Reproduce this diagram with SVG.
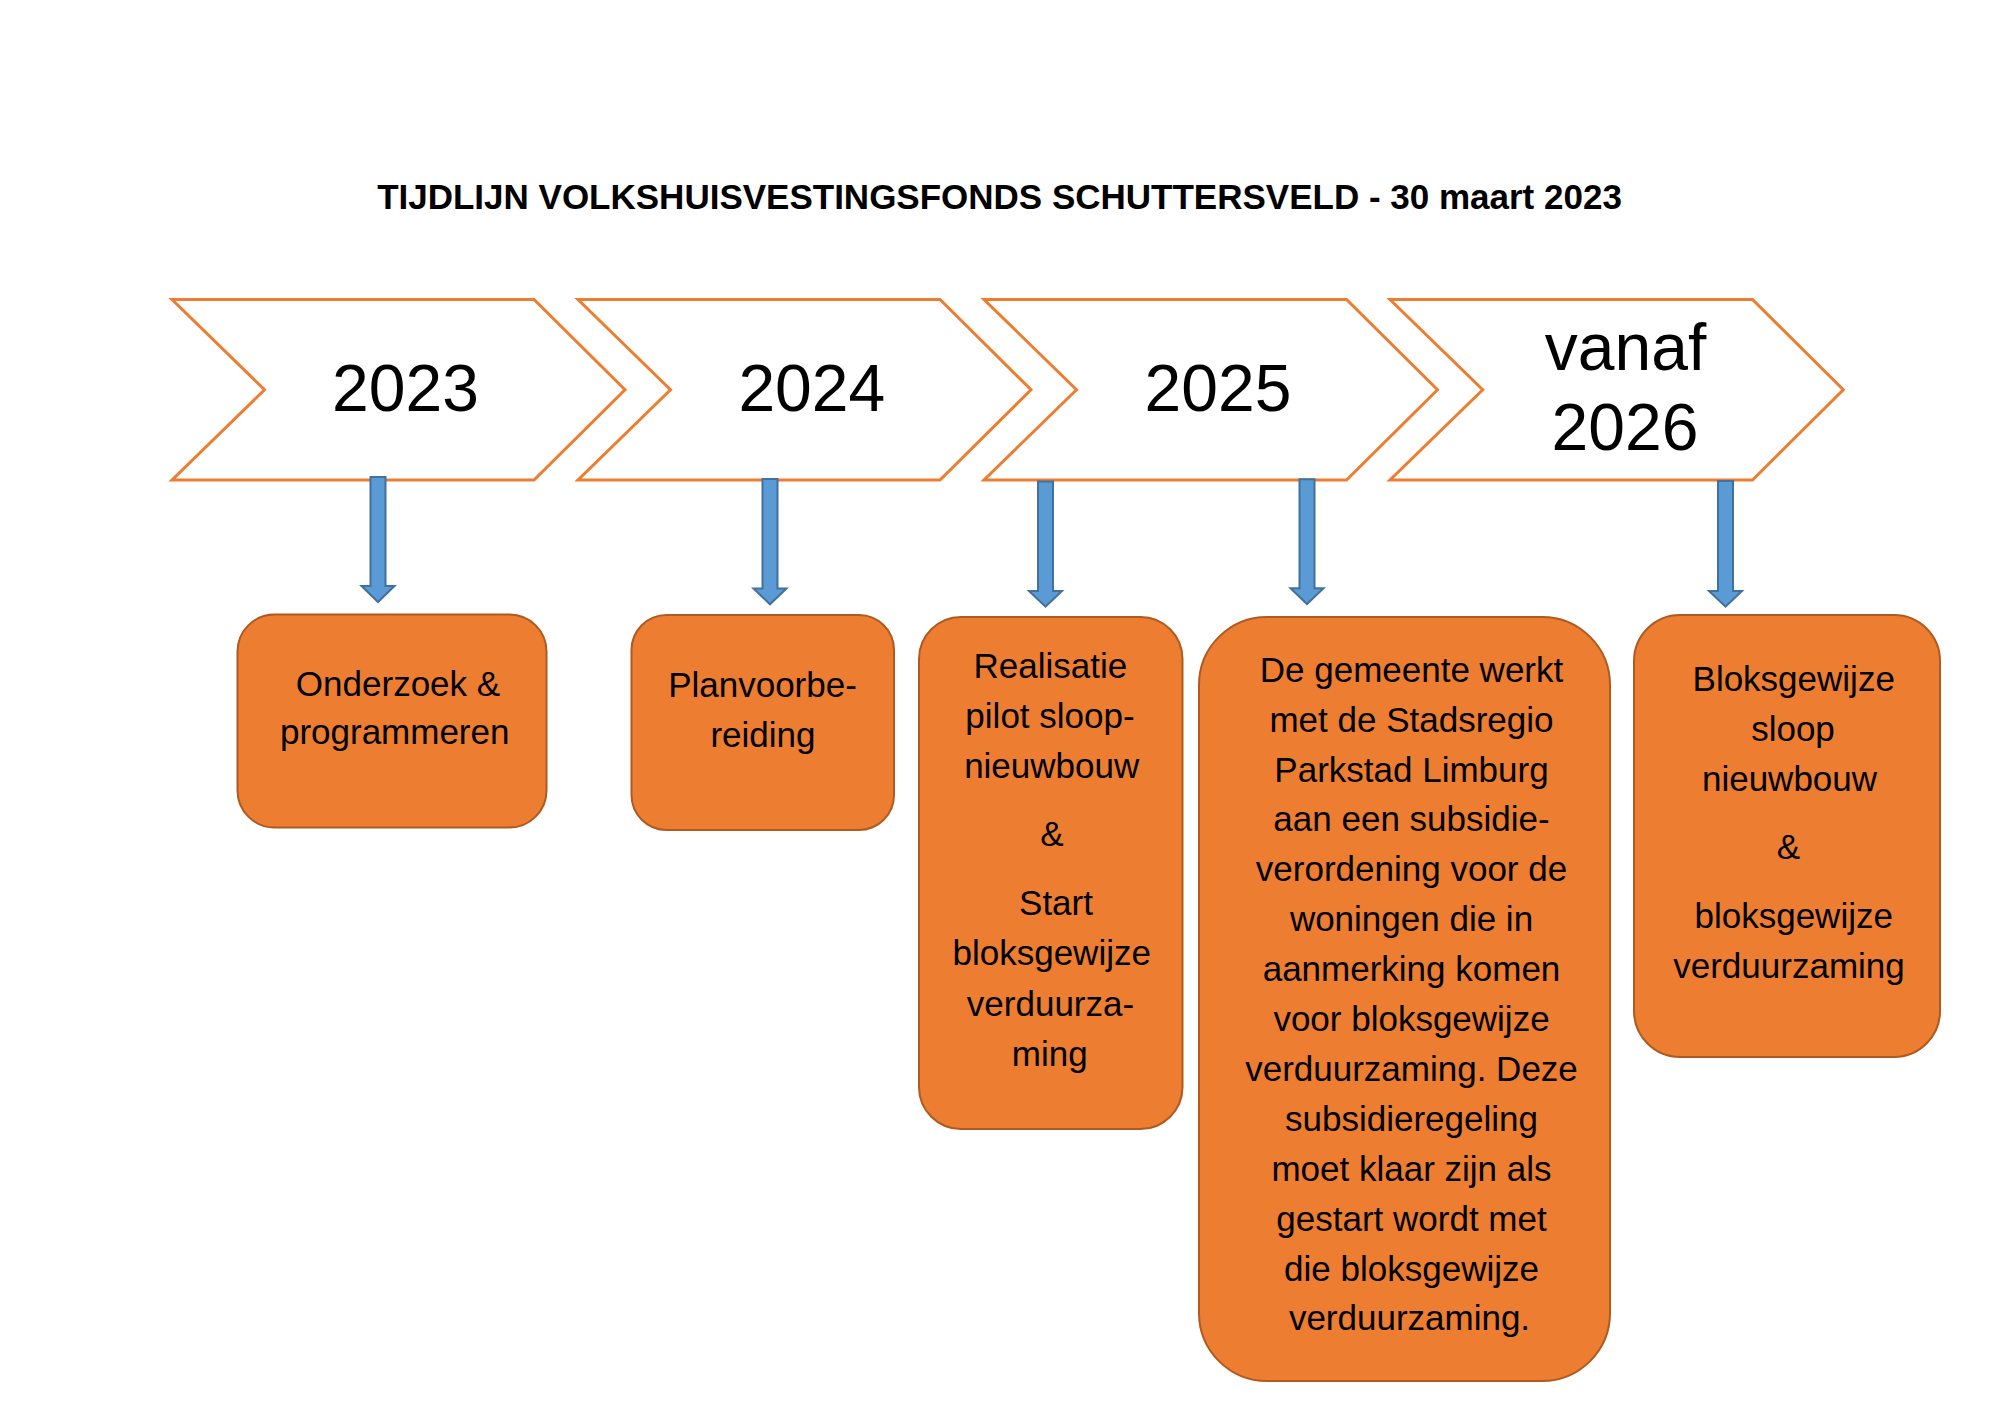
<svg xmlns="http://www.w3.org/2000/svg" width="2000" height="1414" viewBox="0 0 2000 1414">
  <style>
    text { font-family: "Liberation Sans", Arial, sans-serif; fill: #000; text-anchor: middle; }
    .title { font-size: 35px; font-weight: bold; }
    .year { font-size: 66px; }
    .body { font-size: 35px; }
    .chev { fill: #FFFFFF; stroke: #ED7D31; stroke-width: 3; stroke-linejoin: miter; }
    .box { fill: #ED7D31; stroke: #AE5A21; stroke-width: 2; }
    .arrow { fill: #5B9BD5; stroke: #41719C; stroke-width: 2; stroke-linejoin: miter; }
  </style>
  <rect x="0" y="0" width="2000" height="1414" fill="#FFFFFF"/>

  <text id="title" class="title" x="999.5" y="209">TIJDLIJN VOLKSHUISVESTINGSFONDS SCHUTTERSVELD - 30 maart 2023</text>

  <g id="chevron-2023">
    <path class="chev" d="M172,299.5 H534 L625,389.75 L534,480 H172 L264.5,389.75 Z"/>
    <text class="year" x="405.5" y="410.7">2023</text>
  </g>
  <g id="chevron-2024">
    <path class="chev" d="M578,299.5 H940 L1031,389.75 L940,480 H578 L670.5,389.75 Z"/>
    <text class="year" x="811.8" y="410.7">2024</text>
  </g>
  <g id="chevron-2025">
    <path class="chev" d="M984,299.5 H1346.5 L1437.5,389.75 L1346.5,480 H984 L1076.5,389.75 Z"/>
    <text class="year" x="1218" y="410.7">2025</text>
  </g>
  <g id="chevron-2026">
    <path class="chev" d="M1390,299.5 H1752.5 L1843.3,389.75 L1752.5,480 H1390 L1482.7,389.75 Z"/>
    <text class="year" x="1625.5" y="370">vanaf</text>
    <text class="year" x="1625" y="450">2026</text>
  </g>

  <g id="connectors">
    <path class="arrow" d="M370.5,477 H385.5 V586 H394.5 L378,602 L361.5,586 H370.5 Z"/>
    <path class="arrow" d="M762.5,479 H777.5 V588.5 H786.5 L770,604.3 L753.5,588.5 H762.5 Z"/>
    <path class="arrow" d="M1038,481.5 H1053 V591 H1062 L1045.5,606.7 L1029,591 H1038 Z"/>
    <path class="arrow" d="M1299.5,479.3 H1314.5 V588.3 H1323.5 L1307,604 L1290.5,588.3 H1299.5 Z"/>
    <path class="arrow" d="M1718,481 H1733 V591 H1742 L1725.5,606.7 L1709,591 H1718 Z"/>
  </g>

  <g id="box-onderzoek">
    <rect class="box" x="237.5" y="614.5" width="309" height="213" rx="37" ry="37"/>
    <text class="body" x="398" y="695.7">Onderzoek &amp;</text>
    <text class="body" x="394.7" y="744">programmeren</text>
  </g>

  <g id="box-planvoorbereiding">
    <rect class="box" x="631.5" y="615" width="262.5" height="215" rx="35" ry="35"/>
    <text class="body" x="762.5" y="696.7">Planvoorbe-</text>
    <text class="body" x="763" y="746.7">reiding</text>
  </g>

  <g id="box-realisatie">
    <rect class="box" x="919" y="617" width="263.5" height="512" rx="42" ry="42"/>
    <text class="body" x="1050.3" y="677.8">Realisatie</text>
    <text class="body" x="1050" y="727.5">pilot sloop-</text>
    <text class="body" x="1051.7" y="777.5">nieuwbouw</text>
    <text class="body" x="1052" y="845.6">&amp;</text>
    <text class="body" x="1056" y="914.6">Start</text>
    <text class="body" x="1051.7" y="965">bloksgewijze</text>
    <text class="body" x="1050.5" y="1015.5">verduurza-</text>
    <text class="body" x="1049.7" y="1066">ming</text>
  </g>

  <g id="box-subsidie">
    <rect class="box" x="1199" y="617" width="411" height="764" rx="68" ry="68"/>
    <text class="body" x="1411.5" y="681.7">De gemeente werkt</text>
    <text class="body" x="1411.5" y="731.6">met de Stadsregio</text>
    <text class="body" x="1411.5" y="781.5">Parkstad Limburg</text>
    <text class="body" x="1411.5" y="831.4">aan een subsidie-</text>
    <text class="body" x="1411.5" y="881.3">verordening voor de</text>
    <text class="body" x="1411.5" y="931.2">woningen die in</text>
    <text class="body" x="1411.5" y="981.1">aanmerking komen</text>
    <text class="body" x="1411.5" y="1031">voor bloksgewijze</text>
    <text class="body" x="1411.5" y="1080.9">verduurzaming. Deze</text>
    <text class="body" x="1411.5" y="1130.8">subsidieregeling</text>
    <text class="body" x="1411.5" y="1180.7">moet klaar zijn als</text>
    <text class="body" x="1411.5" y="1230.6">gestart wordt met</text>
    <text class="body" x="1411.5" y="1280.5">die bloksgewijze</text>
    <text class="body" x="1409.5" y="1330.4">verduurzaming.</text>
  </g>

  <g id="box-sloop">
    <rect class="box" x="1634" y="615" width="306" height="442" rx="46" ry="46"/>
    <text class="body" x="1793.7" y="690.5">Bloksgewijze</text>
    <text class="body" x="1793" y="740.8">sloop</text>
    <text class="body" x="1789.5" y="790.8">nieuwbouw</text>
    <text class="body" x="1788.5" y="858.8">&amp;</text>
    <text class="body" x="1793.7" y="927.8">bloksgewijze</text>
    <text class="body" x="1789" y="977.7">verduurzaming</text>
  </g>
</svg>
